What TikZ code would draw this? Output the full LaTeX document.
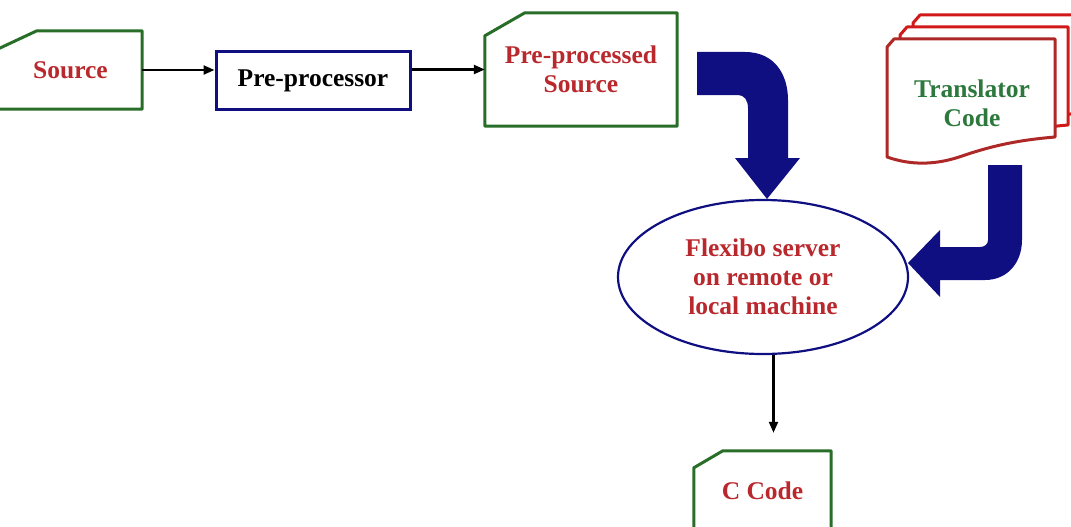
\documentclass[tikz,border=0pt]{standalone}
\usepackage{fontspec}
\setmainfont{Liberation Serif}
\usetikzlibrary{calc,shapes.geometric,arrows.meta}
\definecolor{txtred}{RGB}{185,40,45}
\definecolor{cardgreen}{RGB}{40,110,40}
\definecolor{navy}{RGB}{15,15,130}
\definecolor{docred}{RGB}{175,40,40}
\definecolor{docredb}{RGB}{210,25,25}
\definecolor{txtgreen}{RGB}{45,120,60}
\begin{document}
\begin{tikzpicture}[x=1pt,y=-1pt,
  lbl/.style={font=\fontsize{25.5}{29}\selectfont\bfseries, align=center},
  card/.style={lbl, txtred, draw=none, rectangle, inner sep=0pt},
  cardline/.style={draw=cardgreen, line width=3pt, line join=round},
  docline/.style={draw=#1, fill=white, line width=3pt, line join=round},
  conn/.style={black, line width=2.2pt, -{Triangle[length=11pt,width=9pt]}},
  bigarrow/.style={fill=navy, draw=none}]

\useasboundingbox (0,0) rectangle (1071,527);
\clip (0,0) rectangle (1071,527);

% Translator code documents (stacked)
\foreach \dx/\dy/\col in {26/-24/docredb, 13/-12/docredb, 0/0/docred}{
  \begin{scope}[shift={(\dx,\dy)}]
    \path[docline=\col] (887,157) -- (887,47) -- (894,39) -- (1055,39) -- (1055,137)
      .. controls (1020,140) and (995,145) .. (965,155)
      .. controls (935,166) and (910,165) .. (887,157) -- cycle;
  \end{scope}
}
\node[lbl, txtgreen] (tr) at (972,103) {Translator\\Code};

% Source card
\node[card, minimum width=152pt, minimum height=78pt] (src) at (66,70) {\hspace*{9pt}Source};
\draw[cardline] (src.south west) -- (src.south east) -- (src.north east)
  -- ($(src.north west)+(47,0)$) -- ($(src.north west)+(0,22)$) -- cycle;

% Pre-processor
\node[lbl, draw=navy, line width=3pt, minimum width=194pt, minimum height=57pt, inner sep=0pt] (pre) at (313,80.5) {Pre-processor};

% Pre-processed source card
\node[card, minimum width=192pt, minimum height=113pt] (pps) at (581,69.5) {Pre-processed\\Source};
\draw[cardline] (pps.south west) -- (pps.south east) -- (pps.north east)
  -- ($(pps.north west)+(40,0)$) -- ($(pps.north west)+(0,23)$) -- cycle;

% Server ellipse
\node[ellipse, lbl, txtred, draw=navy, line width=2.2pt, minimum width=290pt, minimum height=154pt, inner sep=0pt] (srv) at (763,277) {Flexibo server\\on remote or\\local machine};

% C code card
\node[card, minimum width=137pt, minimum height=79pt] (cc) at (762.5,490.5) {C Code};
\draw[cardline] (cc.south west) -- (cc.south east) -- (cc.north east)
  -- ($(cc.north west)+(29,0)$) -- ($(cc.north west)+(0,17)$) -- cycle;
\coordinate (ccin) at ([xshift=11pt]cc.north);

% connectors
\draw[conn] (src.east) -- (src.east -| pre.west);
\draw[conn] (pre.east |- pps.west) -- (pps.west);
\draw[conn] (srv.south -| ccin) -- ($(ccin)+(0,-18)$);

% big block arrows
\fill[bigarrow] (697,52) -- (745,52) .. controls (775,52) and (788,75) .. (788,100)
  -- (788,158) -- (800,158) -- (767,199) -- (735,158) -- (748,158) -- (748,108)
  .. controls (748,100) and (744,95) .. (738,95) -- (697,95) -- cycle;
\fill[bigarrow] (988,165) -- (1022,165) -- (1022,240)
  .. controls (1022,262) and (1008,280) .. (985,280) -- (940,280) -- (940,297)
  -- (908,263) -- (940,230) -- (940,247) -- (980,247)
  .. controls (985,247) and (988,244) .. (988,240) -- cycle;
\end{tikzpicture}
\end{document}
